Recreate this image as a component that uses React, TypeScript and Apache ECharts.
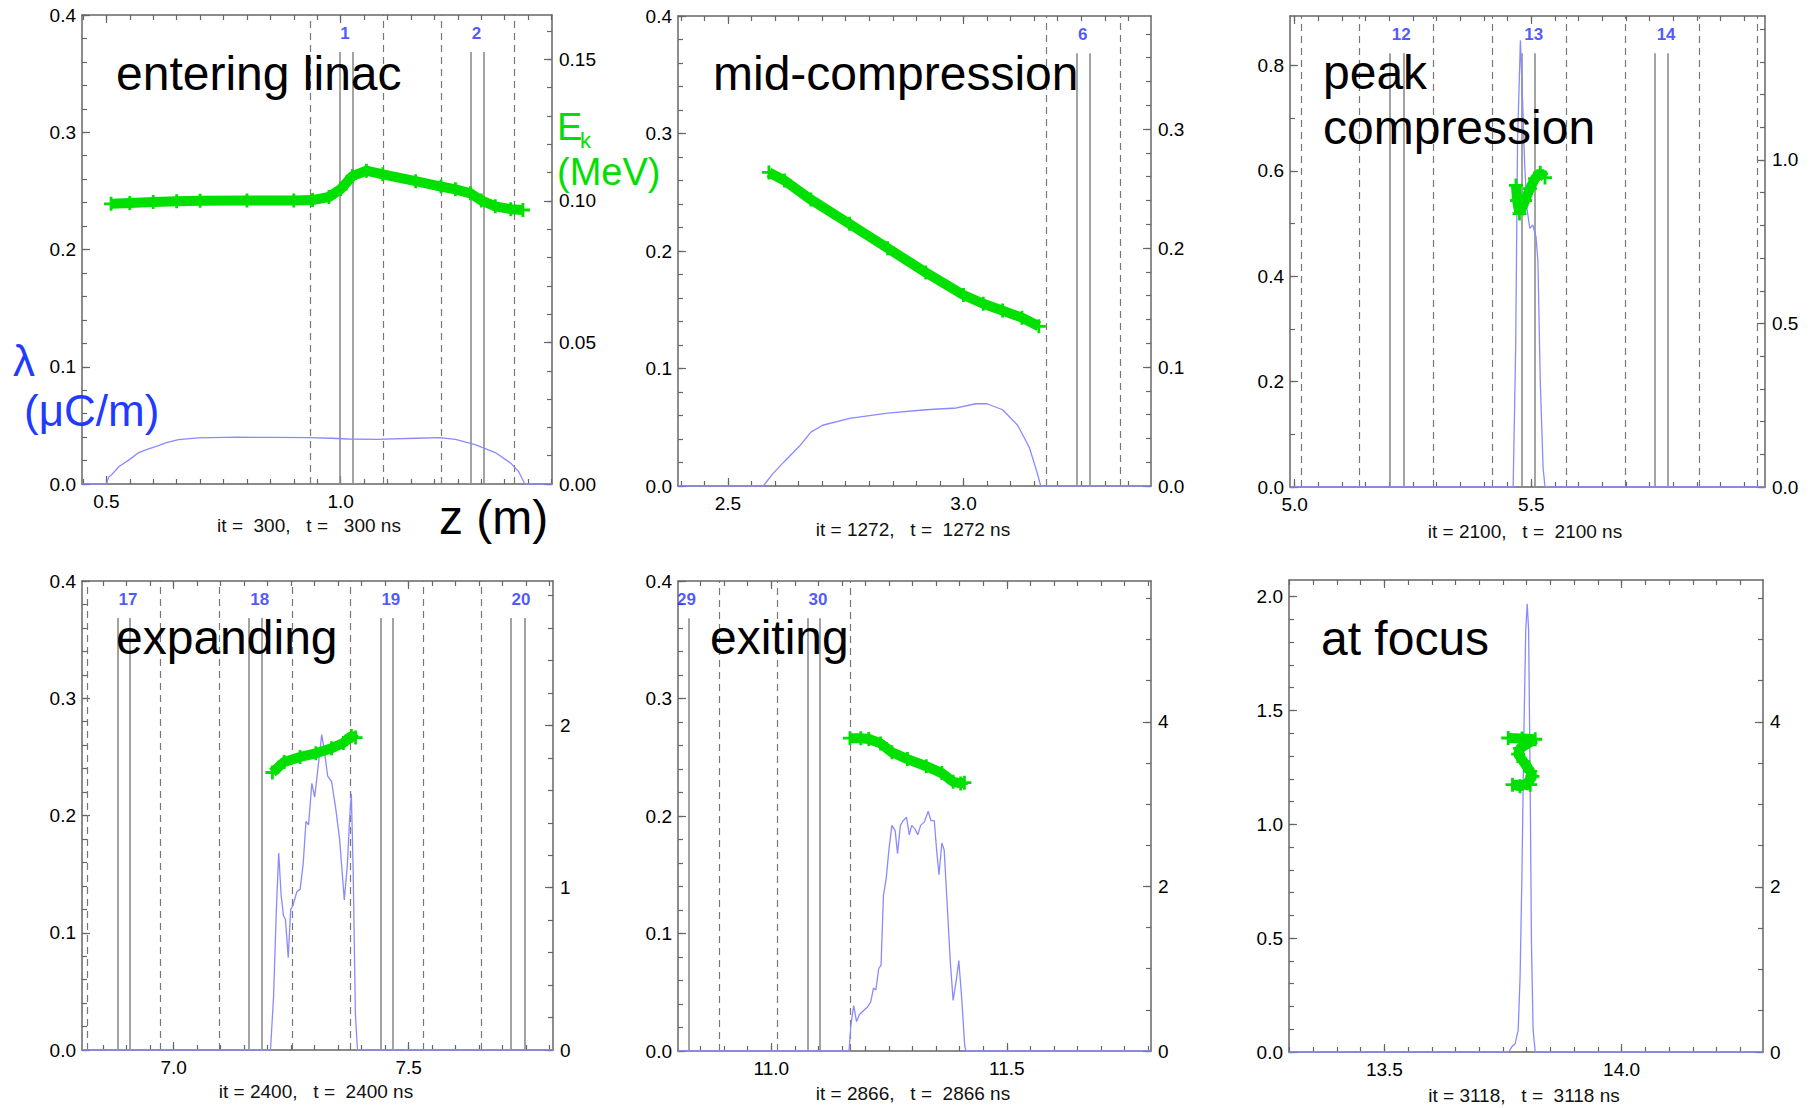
import React, { useEffect, useRef } from 'react';
import * as echarts from 'echarts';

const FONT = '"Liberation Sans", Arial, Helvetica, sans-serif';
const BLUE_LINE = '#8a8aff';
const GREEN = '#00e000';
const LABEL_BLUE = '#1f2eff';
const AXIS = '#666666';

// ---------- Panel 1: entering linac ----------
const zRange1 = [0.448, 1.451];
const zTicks1 = [0.5, 1.0];
const lamTicks1 = [0, 0.1, 0.2, 0.3, 0.4];
const ekTicks1 = [0, 0.05, 0.1, 0.15];
const lamMax1 = 0.4;
const ekMax1 = 0.1657;
const lambda1 = [[0.448, 0], [0.5, 0], [0.505, 0.006], [0.51, 0.0074], [0.527, 0.0149], [0.55, 0.021], [0.569, 0.0268], [0.59, 0.03], [0.611, 0.0327], [0.63, 0.0355], [0.654, 0.0378], [0.696, 0.0393], [0.78, 0.0399], [0.85, 0.0398], [0.932, 0.0396], [0.98, 0.039], [1.017, 0.0384], [1.076, 0.038], [1.16, 0.039], [1.211, 0.0396], [1.245, 0.038], [1.287, 0.0336], [1.33, 0.0268], [1.363, 0.0178], [1.38, 0.0104], [1.393, 0], [1.451, 0]];
const ek1 = [[0.51, 0.099], [0.55, 0.0993], [0.6, 0.0996], [0.65, 0.0999], [0.7, 0.1001], [0.8, 0.1002], [0.9, 0.1002], [0.94, 0.1003], [0.975, 0.1014], [1.0, 0.1042], [1.025, 0.1088], [1.055, 0.1107], [1.09, 0.1094], [1.16, 0.107], [1.214, 0.1051], [1.245, 0.1041], [1.277, 0.1027], [1.3, 0.1002], [1.33, 0.0981], [1.363, 0.0971], [1.389, 0.0968]];
const dashed1 = [0.935, 1.09, 1.214, 1.37];
const solid1 = [0.998, 1.025, 1.277, 1.306];
const cells1 = [['1', 1.009], ['2', 1.29]];

// ---------- Panel 2: mid-compression ----------
const zRange2 = [2.394, 3.398];
const zTicks2 = [2.5, 3.0];
const lamTicks2 = [0, 0.1, 0.2, 0.3, 0.4];
const ekTicks2 = [0, 0.1, 0.2, 0.3];
const lamMax2 = 0.4;
const ekMax2 = 0.395;
const lambda2 = [[2.394, 0], [2.575, 0], [2.595, 0.0103], [2.6195, 0.0207], [2.652, 0.034], [2.676, 0.0458], [2.701, 0.0517], [2.758, 0.0576], [2.839, 0.062], [2.92, 0.0649], [2.985, 0.0664], [3.026, 0.07], [3.05, 0.07], [3.083, 0.0649], [3.115, 0.0517], [3.14, 0.0325], [3.156, 0.0118], [3.164, 0], [3.398, 0]];
const ek2 = [[2.587, 0.2635], [2.62, 0.2568], [2.676, 0.2407], [2.758, 0.2203], [2.839, 0.1999], [2.92, 0.1795], [3.0, 0.1605], [3.042, 0.1532], [3.083, 0.1474], [3.124, 0.1415], [3.16, 0.1342]];
const dashed2 = [3.176, 3.332];
const solid2 = [3.24, 3.268];
const cells2 = [['6', 3.253]];

// ---------- Panel 3: peak compression ----------
const zRange3 = [4.99, 5.994];
const zTicks3 = [5.0, 5.5];
const lamTicks3 = [0, 0.2, 0.4, 0.6, 0.8];
const ekTicks3 = [0, 0.5, 1.0];
const lamMax3 = 0.894;
const ekMax3 = 1.44;
const lambda3 = [[4.99, 0], [5.4617, 0], [5.467, 0.265], [5.471, 0.658], [5.477, 0.848], [5.482, 0.723], [5.486, 0.612], [5.491, 0.527], [5.497, 0.491], [5.503, 0.4975], [5.51, 0.4746], [5.514, 0.429], [5.519, 0.2], [5.525, 0.036], [5.529, 0], [5.994, 0]];
const ek3 = [[5.4676, 0.922], [5.47, 0.876], [5.475, 0.836], [5.487, 0.876], [5.497, 0.912], [5.508, 0.943], [5.519, 0.961], [5.529, 0.946]];
const dashed3 = [5.0136, 5.137, 5.293, 5.418, 5.5735, 5.699, 5.855, 5.978];
const solid3 = [5.201, 5.23, 5.479, 5.508, 5.761, 5.789];
const cells3 = [['12', 5.225], ['13', 5.505], ['14', 5.785]];

// ---------- Panel 4: expanding ----------
const zRange4 = [6.805, 7.807];
const zTicks4 = [7.0, 7.5];
const lamTicks4 = [0, 0.1, 0.2, 0.3, 0.4];
const ekTicks4 = [0, 1, 2];
const lamMax4 = 0.4;
const ekMax4 = 2.89;
const lambda4 = [[6.805, 0], [7.206, 0], [7.2126, 0.046], [7.2185, 0.12], [7.2235, 0.168], [7.2286, 0.132], [7.2336, 0.1145], [7.2378, 0.1115], [7.2437, 0.0788], [7.249, 0.12], [7.254, 0.1234], [7.262, 0.135], [7.269, 0.137], [7.2756, 0.159], [7.2815, 0.195], [7.287, 0.192], [7.294, 0.2275], [7.3, 0.2156], [7.3067, 0.2394], [7.315, 0.269], [7.321, 0.254], [7.3277, 0.2335], [7.336, 0.229], [7.3445, 0.2067], [7.353, 0.18], [7.363, 0.128], [7.3697, 0.159], [7.374, 0.195], [7.378, 0.2186], [7.382, 0.15], [7.3866, 0.031], [7.391, 0], [7.807, 0]];
const ek4 = [[7.21, 1.71], [7.235, 1.774], [7.269, 1.806], [7.3025, 1.828], [7.336, 1.86], [7.361, 1.892], [7.378, 1.935], [7.387, 1.925]];
const dashed4 = [6.8168, 6.972, 7.0966, 7.252, 7.3756, 7.531, 7.654];
const solid4 = [6.88, 6.9076, 7.16, 7.187, 7.4395, 7.466, 7.718, 7.746];
const cells4 = [['17', 6.903], ['18', 7.183], ['19', 7.462], ['20', 7.739]];

// ---------- Panel 5: exiting ----------
const zRange5 = [10.802, 11.806];
const zTicks5 = [11.0, 11.5];
const lamTicks5 = [0, 0.1, 0.2, 0.3, 0.4];
const ekTicks5 = [0, 2, 4];
const lamMax5 = 0.4;
const ekMax5 = 5.71;
const lambda5 = [[10.802, 0], [11.165, 0], [11.169, 0.022], [11.175, 0.0387], [11.181, 0.025], [11.187, 0.031], [11.195, 0.034], [11.203, 0.037], [11.211, 0.0416], [11.217, 0.0535], [11.222, 0.052], [11.228, 0.07], [11.233, 0.073], [11.238, 0.132], [11.244, 0.147], [11.2496, 0.171], [11.256, 0.192], [11.263, 0.1874], [11.268, 0.168], [11.274, 0.192], [11.28, 0.196], [11.287, 0.199], [11.293, 0.184], [11.298, 0.192], [11.305, 0.189], [11.311, 0.184], [11.317, 0.192], [11.325, 0.195], [11.333, 0.204], [11.339, 0.196], [11.346, 0.196], [11.351, 0.171], [11.356, 0.15], [11.362, 0.177], [11.367, 0.171], [11.374, 0.12], [11.38, 0.076], [11.386, 0.043], [11.393, 0.061], [11.398, 0.077], [11.404, 0.046], [11.4106, 0.0045], [11.413, 0], [11.806, 0]];
const ek5 = [[11.167, 3.8], [11.19, 3.8], [11.207, 3.79], [11.232, 3.737], [11.256, 3.63], [11.289, 3.546], [11.329, 3.46], [11.362, 3.376], [11.386, 3.27], [11.402, 3.25], [11.41, 3.26]];
const dashed5 = [10.889, 11.012, 11.1675];
const solid5 = [10.825, 11.077, 11.103];
const cells5 = [['29', 10.82], ['30', 11.099]];

// ---------- Panel 6: at focus ----------
const zRange6 = [13.299, 14.298];
const zTicks6 = [13.5, 14.0];
const lamTicks6 = [0, 0.5, 1.0, 1.5, 2.0];
const ekTicks6 = [0, 2, 4];
const lamMax6 = 2.073;
const ekMax6 = 5.72;
const lambda6 = [[13.299, 0], [13.762, 0], [13.77, 0.027], [13.7754, 0.035], [13.782, 0.096], [13.786, 0.326], [13.79, 0.784], [13.794, 1.396], [13.798, 1.855], [13.801, 1.969], [13.804, 1.855], [13.807, 1.243], [13.81, 0.479], [13.8135, 0.096], [13.818, 0], [14.298, 0]];
const ek6 = [[13.761, 3.805], [13.79, 3.8], [13.818, 3.79], [13.786, 3.68], [13.782, 3.61], [13.793, 3.52], [13.8075, 3.4], [13.812, 3.34], [13.801, 3.256], [13.786, 3.22], [13.77, 3.24], [13.8075, 3.24]];
const dashed6: number[] = [];
const solid6: number[] = [];
const cells6: [string, number][] = [];

const titles = [['entering linac'], ['mid-compression'], ['peak', 'compression'], ['expanding'], ['exiting'], ['at focus']];
const footers = ['it =\u00a0 300,\u00a0\u00a0 t =\u00a0\u00a0 300 ns', 'it = 1272,\u00a0\u00a0 t =\u00a0 1272 ns', 'it = 2100,\u00a0\u00a0 t =\u00a0 2100 ns', 'it = 2400,\u00a0\u00a0 t =\u00a0 2400 ns', 'it = 2866,\u00a0\u00a0 t =\u00a0 2866 ns', 'it = 3118,\u00a0\u00a0 t =\u00a0 3118 ns'];

const panels = [
  { zr: zRange1, zt: zTicks1, lt: lamTicks1, et: ekTicks1, lm: lamMax1, em: ekMax1, lam: lambda1, ek: ek1, dashed: dashed1, solid: solid1, cells: cells1, lMinor: 0.02, eMinor: 0.01, lDec: 1, eDec: 2 },
  { zr: zRange2, zt: zTicks2, lt: lamTicks2, et: ekTicks2, lm: lamMax2, em: ekMax2, lam: lambda2, ek: ek2, dashed: dashed2, solid: solid2, cells: cells2, lMinor: 0.02, eMinor: 0.02, lDec: 1, eDec: 1 },
  { zr: zRange3, zt: zTicks3, lt: lamTicks3, et: ekTicks3, lm: lamMax3, em: ekMax3, lam: lambda3, ek: ek3, dashed: dashed3, solid: solid3, cells: cells3, lMinor: 0.1, eMinor: 0.1, lDec: 1, eDec: 1 },
  { zr: zRange4, zt: zTicks4, lt: lamTicks4, et: ekTicks4, lm: lamMax4, em: ekMax4, lam: lambda4, ek: ek4, dashed: dashed4, solid: solid4, cells: cells4, lMinor: 0.02, eMinor: 0.2, lDec: 1, eDec: 0 },
  { zr: zRange5, zt: zTicks5, lt: lamTicks5, et: ekTicks5, lm: lamMax5, em: ekMax5, lam: lambda5, ek: ek5, dashed: dashed5, solid: solid5, cells: cells5, lMinor: 0.02, eMinor: 0.5, lDec: 1, eDec: 0 },
  { zr: zRange6, zt: zTicks6, lt: lamTicks6, et: ekTicks6, lm: lamMax6, em: ekMax6, lam: lambda6, ek: ek6, dashed: dashed6, solid: solid6, cells: cells6, lMinor: 0.1, eMinor: 0.5, lDec: 1, eDec: 0 },
];

// plot boxes in pixels: [left, top, width, height]
const boxes = [
  [82, 15, 470, 469],
  [678, 16, 473, 470],
  [1290, 16, 475, 471],
  [82, 581, 471, 469],
  [678, 581, 473, 470],
  [1289, 580, 474, 472],
];
const titlePos = [[116, 73], [713, 73], [1323, 72], [116, 637], [710, 637], [1321, 638]];
const footerPos = [[309, 525], [913, 529], [1525, 531], [316, 1091], [913, 1093], [1524, 1095]];

function stepsIn(min: number, max: number, step: number) {
  const out: number[] = [];
  let k = Math.ceil(min / step - 1e-9);
  for (;;) {
    const v = +(k * step).toFixed(6);
    if (v > max + 1e-9) break;
    out.push(v);
    k++;
  }
  return out;
}

const PLUS = 'path://M4,0H6V4H10V6H6V10H4V6H0V4H4Z';

function buildOption() {
  const grid: any[] = [];
  const xAxis: any[] = [];
  const yAxis: any[] = [];
  const series: any[] = [];
  const graphic: any[] = [];

  panels.forEach((p, i) => {
    const [l, t, w, h] = boxes[i];
    grid.push({ left: l, top: t, width: w, height: h, containLabel: false });
    const base = { type: 'value', gridIndex: i, splitLine: { show: false } };
    const lineOn = { show: true, onZero: false, lineStyle: { color: AXIS, width: 1.5 } };
    const lineOff = { show: false, onZero: false };
    const tickStyle = { color: AXIS, width: 1.2 };
    const labelStyle = { color: '#000', fontSize: 19, fontFamily: FONT };
    const xMinor = stepsIn(p.zr[0], p.zr[1], 0.05);
    // x axes: bottom major, bottom minor, top major, top minor
    xAxis.push({ ...base, position: 'bottom', min: p.zr[0], max: p.zr[1], axisLine: lineOn,
      axisTick: { show: true, inside: true, length: 8, customValues: p.zt, lineStyle: tickStyle },
      axisLabel: { show: true, customValues: p.zt, margin: 8, formatter: (v: number) => v.toFixed(1), ...labelStyle } });
    xAxis.push({ ...base, position: 'bottom', min: p.zr[0], max: p.zr[1], axisLine: lineOff,
      axisTick: { show: true, inside: true, length: 5, customValues: xMinor, lineStyle: tickStyle }, axisLabel: { show: false } });
    xAxis.push({ ...base, position: 'top', min: p.zr[0], max: p.zr[1], axisLine: lineOn,
      axisTick: { show: true, inside: true, length: 8, customValues: p.zt, lineStyle: tickStyle }, axisLabel: { show: false } });
    xAxis.push({ ...base, position: 'top', min: p.zr[0], max: p.zr[1], axisLine: lineOff,
      axisTick: { show: true, inside: true, length: 5, customValues: xMinor, lineStyle: tickStyle }, axisLabel: { show: false } });
    // y axes: left major, left minor, right major, right minor
    yAxis.push({ ...base, position: 'left', min: 0, max: p.lm, axisLine: lineOn,
      axisTick: { show: true, inside: true, length: 8, customValues: p.lt, lineStyle: tickStyle },
      axisLabel: { show: true, customValues: p.lt, margin: 6, formatter: (v: number) => v.toFixed(p.lDec), ...labelStyle } });
    yAxis.push({ ...base, position: 'left', min: 0, max: p.lm, axisLine: lineOff,
      axisTick: { show: true, inside: true, length: 5, customValues: stepsIn(0, p.lm, p.lMinor), lineStyle: tickStyle }, axisLabel: { show: false } });
    yAxis.push({ ...base, position: 'right', min: 0, max: p.em, axisLine: lineOn,
      axisTick: { show: true, inside: true, length: 8, customValues: p.et, lineStyle: tickStyle },
      axisLabel: { show: true, customValues: p.et, margin: 7, formatter: (v: number) => v.toFixed(p.eDec), ...labelStyle } });
    yAxis.push({ ...base, position: 'right', min: 0, max: p.em, axisLine: lineOff,
      axisTick: { show: true, inside: true, length: 5, customValues: stepsIn(0, p.em, p.eMinor), lineStyle: tickStyle }, axisLabel: { show: false } });

    const xi = i * 4;
    const yi = i * 4;
    if (p.dashed.length) {
      series.push({ type: 'lines', coordinateSystem: 'cartesian2d', xAxisIndex: xi, yAxisIndex: yi, silent: true, z: 1,
        data: p.dashed.map((x: number) => ({ coords: [[x, 0], [x, p.lm]] })),
        lineStyle: { color: '#777', width: 1.2, type: [7, 5], opacity: 1 } });
    }
    if (p.solid.length) {
      series.push({ type: 'lines', coordinateSystem: 'cartesian2d', xAxisIndex: xi, yAxisIndex: yi, silent: true, z: 1,
        data: p.solid.map((x: number) => ({ coords: [[x, 0], [x, p.lm * 0.921]] })),
        lineStyle: { color: '#8c8c8c', width: 1.6, type: 'solid', opacity: 1 } });
    }
    if (p.cells.length) {
      series.push({ type: 'scatter', xAxisIndex: xi, yAxisIndex: yi, silent: true, z: 2, symbolSize: 1,
        itemStyle: { color: 'rgba(0,0,0,0)' },
        data: p.cells.map((c: any) => [c[1], p.lm * 0.96, c[0]]),
        label: { show: true, position: 'inside', formatter: (q: any) => q.value[2], color: LABEL_BLUE, fontSize: 17, fontWeight: 'bold', fontFamily: FONT, lineHeight: 15 } });
    }
    series.push({ type: 'line', xAxisIndex: xi, yAxisIndex: yi, data: p.lam, showSymbol: false, symbol: 'none', z: 3,
      lineStyle: { color: BLUE_LINE, width: 1.3 } });
    series.push({ type: 'line', xAxisIndex: xi, yAxisIndex: yi + 2, data: p.ek, symbol: PLUS, symbolSize: 14, showSymbol: true, z: 4,
      lineStyle: { color: GREEN, width: 10 }, itemStyle: { color: GREEN } });

    // titles
    titles[i].forEach((txt, k) => {
      graphic.push({ type: 'text', x: titlePos[i][0], y: titlePos[i][1] + k * 55, z: 100,
        style: { text: txt, font: `48px ${FONT}`, lineHeight: 34, fill: '#000', textAlign: 'left', textVerticalAlign: 'middle' } });
    });
    graphic.push({ type: 'text', x: footerPos[i][0], y: footerPos[i][1], z: 100,
      style: { text: footers[i], font: `19px ${FONT}`, fill: '#111', textAlign: 'center', textVerticalAlign: 'middle' } });
  });

  graphic.push({ type: 'text', x: 439, y: 517, z: 100, style: { text: 'z (m)', font: `48px ${FONT}`, fill: '#000', textAlign: 'left', textVerticalAlign: 'middle' } });
  graphic.push({ type: 'text', x: 13, y: 360, z: 100, style: { text: 'λ', font: `44px ${FONT}`, fill: '#1f3bff', textAlign: 'left', textVerticalAlign: 'middle' } });
  graphic.push({ type: 'text', x: 24, y: 410, z: 100, style: { text: '(μC/m)', font: `44px ${FONT}`, fill: '#1f3bff', textAlign: 'left', textVerticalAlign: 'middle' } });
  graphic.push({ type: 'text', x: 557, y: 127, z: 100, style: { text: 'E', font: `38px ${FONT}`, fill: GREEN, textAlign: 'left', textVerticalAlign: 'middle' } });
  graphic.push({ type: 'text', x: 580, y: 140, z: 100, style: { text: 'k', font: `22px ${FONT}`, fill: GREEN, textAlign: 'left', textVerticalAlign: 'middle' } });
  graphic.push({ type: 'text', x: 557, y: 172, z: 100, style: { text: '(MeV)', font: `38px ${FONT}`, fill: GREEN, textAlign: 'left', textVerticalAlign: 'middle' } });

  return { animation: false, backgroundColor: '#fff', grid, xAxis, yAxis, series, graphic };
}

export default function App() {
  const ref = useRef<HTMLDivElement>(null);
  useEffect(() => {
    document.body.style.margin = '0';
    const chart = echarts.init(ref.current!, undefined, { renderer: 'svg' });
    chart.setOption(buildOption() as any);
    return () => chart.dispose();
  }, []);
  return <div ref={ref} style={{ width: 1811, height: 1108 }} />;
}
